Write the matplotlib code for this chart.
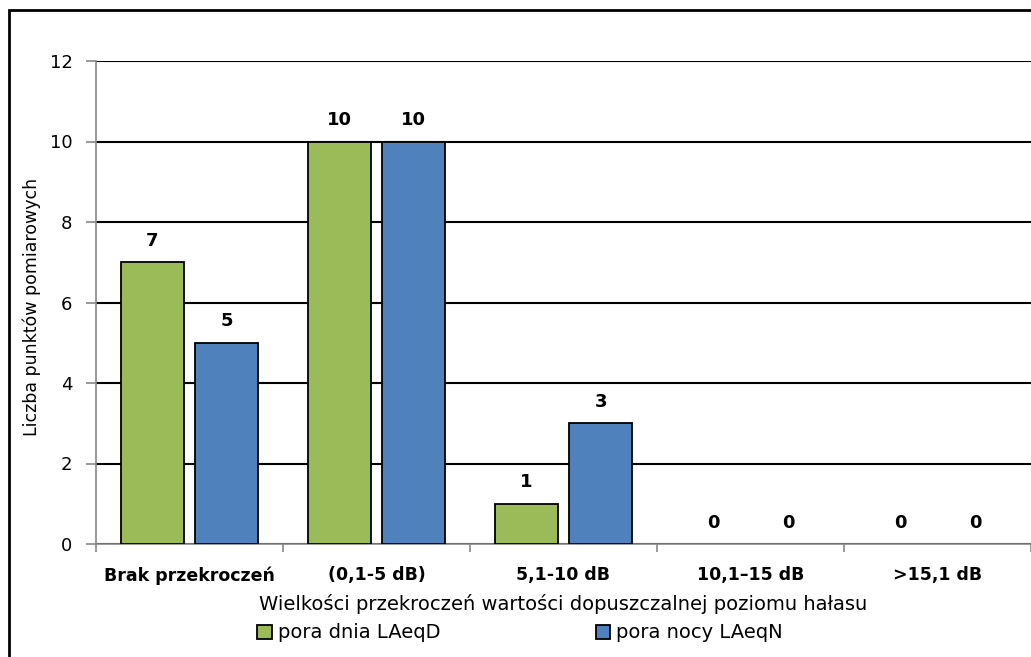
import numpy as np
import matplotlib.pyplot as plt
from matplotlib.patches import Rectangle

plt.rcParams['font.family'] = ['DejaVu Sans']

# dane
kategorie = ['Brak przekroczeń', '(0,1-5 dB)', '5,1-10 dB', '10,1–15 dB', '>15,1 dB']
dzien = [7, 10, 1, 0, 0]
noc = [5, 10, 3, 0, 0]
etykiety_y = [0, 2, 4, 6, 8, 10, 12]

kolor_dzien = '#9bbb59'
kolor_noc = '#4f81bd'

fig = plt.figure(figsize=(10.31, 6.57), dpi=100)
ax = fig.add_axes([96/1031, 1-544/657, 1-96/1031, (544-61)/657])

x = np.arange(len(kategorie))
szer = 0.337
przes = 0.2

b1 = ax.bar(x - przes, dzien, szer, color=kolor_dzien, edgecolor='black', linewidth=1.3,
            label='pora dnia LAeqD', zorder=3)
b2 = ax.bar(x + przes, noc, szer, color=kolor_noc, edgecolor='black', linewidth=1.3,
            label='pora nocy LAeqN', zorder=3)

# wartości nad słupkami (słupki zerowe bez obramowania)
for slupki, wart in ((b1, dzien), (b2, noc)):
    for s, v in zip(slupki, wart):
        if v == 0:
            s.set_linewidth(0)
        ax.annotate(str(v), (s.get_x() + s.get_width()/2, v), xytext=(0, 9),
                    textcoords='offset points', ha='center', va='bottom',
                    fontsize=13, fontweight='bold')

ax.set_xlim(-0.5, len(kategorie) - 0.5)
ax.set_ylim(0, 12)
ax.set_yticks(etykiety_y)
ax.yaxis.grid(True, color='black', linewidth=1.5, zorder=0)
ax.set_axisbelow(True)

ax.set_xticks(x)
ax.set_xticklabels(kategorie, fontsize=12.5, fontweight='bold')
ax.set_xticks(np.arange(len(kategorie) + 1) - 0.5, minor=True)
ax.tick_params(axis='x', which='major', length=0, pad=16)
ax.tick_params(axis='x', which='minor', length=6, color='#888888', width=1.2)
ax.tick_params(axis='y', length=7, color='#888888', width=1.2, labelsize=13, pad=10)

for k in ('top', 'right'):
    ax.spines[k].set_visible(False)
for k in ('left', 'bottom'):
    ax.spines[k].set_color('#888888')
    ax.spines[k].set_linewidth(1.2)

ax.set_xlabel('Wielkości przekroczeń wartości dopuszczalnej poziomu hałasu', fontsize=14, labelpad=7)
ax.set_ylabel('Liczba punktów pomiarowych', fontsize=12.5)
ax.yaxis.set_label_coords(-55/935, 0.49)

fig.legend(handles=[b1, b2], loc='center', bbox_to_anchor=(520/1031, 1-633/657), ncol=2,
           frameon=False, fontsize=14, handlelength=0.75, handleheight=0.75,
           handletextpad=0.3, columnspacing=8)

# ramka wykresu
fig.patches.append(Rectangle((9/1031, -0.1), 1.2, 1 - 10/657 + 0.1, transform=fig.transFigure,
                             fill=False, edgecolor='black', linewidth=2))

fig.savefig('out.png', dpi=100)
